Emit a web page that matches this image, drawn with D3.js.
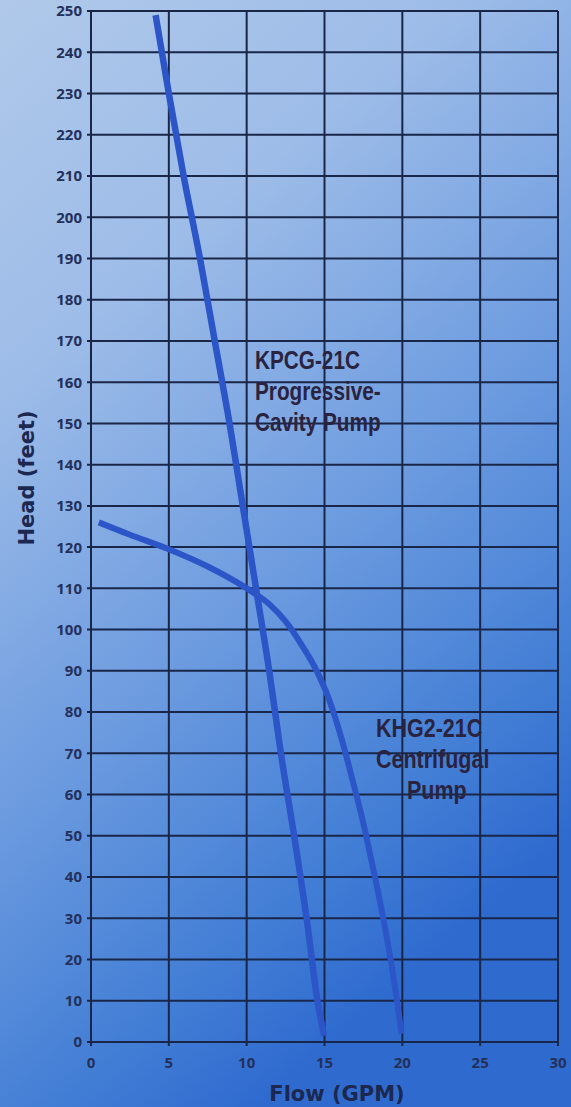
<!DOCTYPE html>
<html><head><meta charset="utf-8">
<script src="https://cdn.jsdelivr.net/npm/d3@7"></script>
<style>html,body{margin:0;padding:0;overflow:hidden;}svg{display:block;}</style>
</head><body>
<script>
const W = 571, H = 1107;
const xTicks = [0, 5, 10, 15, 20, 25, 30];
const yTicks = d3.range(0, 251, 10);
const kpcgFlow = [4.15, 5.0, 5.95, 7.0, 7.95, 8.9, 9.75, 10.6, 11.45, 12.2, 13.05, 13.85, 14.55, 14.97];
const kpcgHead = [249, 230, 210, 190, 170, 150, 130, 110, 90, 70, 50, 30, 10, 1.5];
const khgFlow = [0.5, 2.5, 5.0, 7.5, 10.0, 11.5, 12.5, 13.5, 14.5, 15.3, 16.1, 16.8, 17.45, 18.1, 18.75, 19.4, 19.95];
const khgHead = [126, 123, 119.5, 115.3, 110, 106, 102, 96.5, 90, 83, 73.5, 63.5, 53.8, 42.5, 30.5, 16.5, 2];
const kpcgLabel = ["KPCG-21C", "Progressive-", "Cavity Pump"];
const khgLabel = ["KHG2-21C", "Centrifugal", "Pump"];
const xTitle = "Flow (GPM)";
const yTitle = "Head (feet)";

const svg = d3.select("body").append("svg").attr("width", W).attr("height", H);
const defs = svg.append("defs");
const grad = defs.append("linearGradient").attr("id", "bg")
  .attr("x1", "0").attr("y1", "0").attr("x2", "0.45").attr("y2", "1");
[[0, "#b0c9ea"], [0.3, "#9dbce8"], [0.6, "#6f9de0"], [0.85, "#4580d6"], [1, "#2f6bcf"]].forEach(s =>
  grad.append("stop").attr("offset", s[0]).attr("stop-color", s[1]));
svg.append("rect").attr("width", W).attr("height", H).attr("fill", "url(#bg)");

const L = 91, R = 558, T = 11, B = 1042;
const x = d3.scaleLinear().domain([0, 30]).range([L, R]);
const y = d3.scaleLinear().domain([0, 250]).range([B, T]);
const ink = "#1a2648";

const g = svg.append("g");
g.selectAll("line.h").data(yTicks).join("line")
  .attr("x1", L - 4).attr("x2", R).attr("y1", d => y(d)).attr("y2", d => y(d))
  .attr("stroke", ink).attr("stroke-width", 2);
g.selectAll("line.v").data(xTicks).join("line")
  .attr("y1", T).attr("y2", B + 4).attr("x1", d => x(d)).attr("x2", d => x(d))
  .attr("stroke", ink).attr("stroke-width", 2);

g.selectAll("text.yl").data(yTicks).join("text")
  .attr("x", 82).attr("y", d => y(d)).attr("dy", "0.36em")
  .attr("text-anchor", "end").attr("fill", "#24305a")
  .attr("font-family", "'Open Sans', sans-serif").attr("font-weight", 700).attr("font-size", 15)
  .text(d => d);
g.selectAll("text.xl").data(xTicks).join("text")
  .attr("x", d => x(d)).attr("y", 1068)
  .attr("text-anchor", "middle").attr("fill", "#24305a")
  .attr("font-family", "'Open Sans', sans-serif").attr("font-weight", 700).attr("font-size", 15)
  .text(d => d);

svg.append("text").attr("x", 337).attr("y", 1101).attr("text-anchor", "middle")
  .attr("fill", "#1c2850").attr("font-family", "'DejaVu Sans', sans-serif").attr("font-weight", "bold")
  .attr("font-size", 21).text(xTitle);
svg.append("text").attr("transform", "translate(34,478) rotate(-90)").attr("text-anchor", "middle")
  .attr("fill", "#1c2850").attr("font-family", "'DejaVu Sans', sans-serif").attr("font-weight", "bold")
  .attr("font-size", 21).text(yTitle);

const line = d3.line().x(d => x(d[0])).y(d => y(d[1])).curve(d3.curveMonotoneX);
const curveColor = "#2c55c8";
svg.append("path").datum(khgFlow.map((f, i) => [f, khgHead[i]]))
  .attr("d", line).attr("fill", "none").attr("stroke", curveColor).attr("stroke-width", 6).attr("stroke-linecap", "butt");
svg.append("path").datum(kpcgFlow.map((f, i) => [f, kpcgHead[i]]))
  .attr("d", line).attr("fill", "none").attr("stroke", curveColor).attr("stroke-width", 6.5).attr("stroke-linecap", "butt");

const lblFont = "'Liberation Sans', Arial, sans-serif";
svg.append("g").attr("transform", "translate(255,0) scale(0.83,1)")
  .selectAll("text").data(kpcgLabel).join("text")
  .attr("x", 0).attr("y", (d, i) => 369 + i * 31)
  .attr("fill", "#2a2340").attr("font-family", lblFont).attr("font-weight", "bold").attr("font-size", 25)
  .text(d => d);
svg.append("g").attr("transform", "translate(376,0) scale(0.86,1)")
  .selectAll("text").data(khgLabel).join("text")
  .attr("x", (d, i) => i === 2 ? 36 : 0).attr("y", (d, i) => 737 + i * 31)
  .attr("fill", "#2a2340").attr("font-family", lblFont).attr("font-weight", "bold").attr("font-size", 25)
  .text(d => d);
</script>
</body></html>
